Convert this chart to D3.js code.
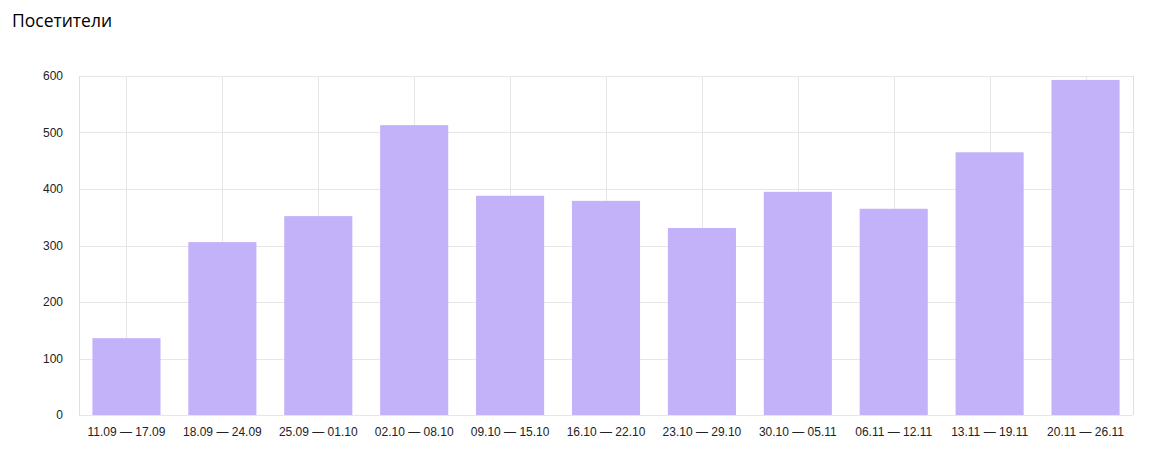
<!DOCTYPE html>
<html>
<head>
<meta charset="utf-8">
<script src="https://cdn.jsdelivr.net/npm/d3@7"></script>
<style>
  body { margin: 0; background: #fff; font-family: "Liberation Sans", Arial, sans-serif; }
</style>
</head>
<body>
<script>
// weekly visitors
var weeks = ["11.09 — 17.09", "18.09 — 24.09", "25.09 — 01.10", "02.10 — 08.10",
  "09.10 — 15.10", "16.10 — 22.10", "23.10 — 29.10", "30.10 — 05.11",
  "06.11 — 12.11", "13.11 — 19.11", "20.11 — 26.11"];
var visitors = [136, 306, 352, 513, 388, 379, 331, 395, 365, 465, 593];
var yTicks = [0, 100, 200, 300, 400, 500, 600];

var data = weeks.map(function(w, i) {
  return { week: w, value: visitors[i] };
});

var width = 1151;
var height = 451;
var margin = {top: 76, right: 18, bottom: 36, left: 79};

var svg = d3.select("body")
  .append("svg")
  .attr("width", width)
  .attr("height", height);

svg.append("text")
  .attr("x", 12)
  .attr("y", 27)
  .style("font-family", "'Open Sans', 'Noto Sans', sans-serif")
  .style("font-size", "17.5px")
  .attr("fill", "#000")
  .text("Посетители");

var g = svg.append("g")
  .attr("transform", "translate(" + margin.left + "," + margin.top + ")");

var w = width - margin.left - margin.right;
var h = height - margin.top - margin.bottom;

var x = d3.scaleBand()
  .domain(weeks)
  .range([0, w])
  .paddingInner(0.29)
  .paddingOuter(0.14);

var y = d3.scaleLinear()
  .domain([0, 600])
  .range([h, 0]);

// horizontal grid
g.selectAll(".hgrid")
  .data(yTicks)
  .enter()
  .append("line")
  .attr("x1", 0)
  .attr("x2", w)
  .attr("y1", function(d) { return Math.round(y(d)) + 0.5; })
  .attr("y2", function(d) { return Math.round(y(d)) + 0.5; })
  .attr("stroke", "#e6e6e6");

// vertical grid at category centers
g.selectAll(".vgrid")
  .data(weeks)
  .enter()
  .append("line")
  .attr("x1", function(d) { return Math.round(x(d) + x.bandwidth() / 2) + 0.5; })
  .attr("x2", function(d) { return Math.round(x(d) + x.bandwidth() / 2) + 0.5; })
  .attr("y1", 0)
  .attr("y2", h)
  .attr("stroke", "#e6e6e6");

// frame sides
[0, w].forEach(function(px) {
  g.append("line")
    .attr("x1", Math.round(px) + 0.5)
    .attr("x2", Math.round(px) + 0.5)
    .attr("y1", 0)
    .attr("y2", h)
    .attr("stroke", "#e0e0e0");
});

g.selectAll(".bar")
  .data(data)
  .enter()
  .append("rect")
  .attr("x", function(d) { return x(d.week); })
  .attr("y", function(d) { return y(d.value); })
  .attr("width", x.bandwidth())
  .attr("height", function(d) { return h - y(d.value); })
  .attr("fill", "#c3b1f9");

// y axis labels
var yAxis = g.append("g")
  .call(d3.axisLeft(y).tickValues(yTicks).tickSize(0).tickPadding(16));
yAxis.select(".domain").remove();
yAxis.selectAll("text")
  .style("font-family", "'Liberation Sans', Arial, sans-serif")
  .style("font-size", "12px")
  .attr("fill", "#222");

// x axis labels
var xAxis = g.append("g")
  .attr("transform", "translate(0," + h + ")")
  .call(d3.axisBottom(x).tickSize(0).tickPadding(12));
xAxis.select(".domain").remove();
xAxis.selectAll("text")
  .style("font-family", "'Liberation Sans', Arial, sans-serif")
  .style("font-size", "12px")
  .attr("fill", "#222");
</script>
</body>
</html>
